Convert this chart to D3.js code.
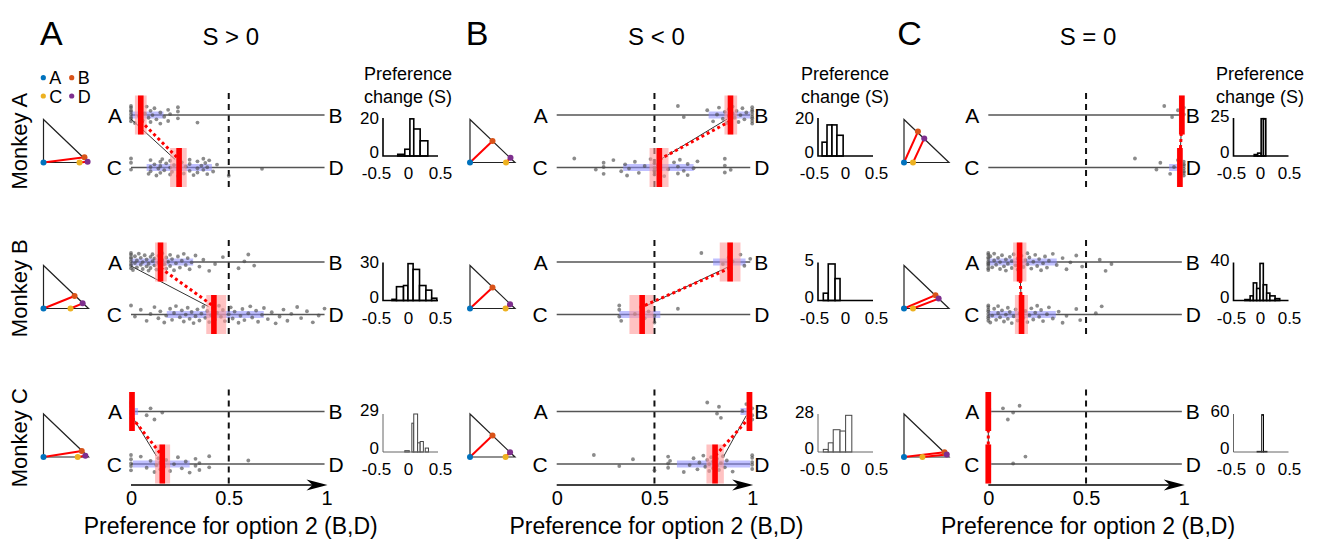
<!DOCTYPE html>
<html>
<head>
<meta charset="utf-8">
<script src="https://cdn.jsdelivr.net/npm/d3@7"></script>
<style>
  body { margin: 0; background: #fff; }
  svg { font-family: "Liberation Sans", Arial, sans-serif; }
</style>
</head>
<body>
<div class="chart"></div>
<script>
var svgWidth = 1318;
var svgHeight = 542;

// ---- data ----
var panelLetters = ["A", "B", "C"];
var conditions = ["S > 0", "S < 0", "S = 0"];
var monkeys = ["Monkey A", "Monkey B", "Monkey C"];
var optionNames = ["A", "B", "C", "D"];
var optionColors = ["#0072bd", "#d95319", "#edb120", "#7e2f8e"];
var axisTicks = [0, 0.5, 1];
var histTickValues = [-0.5, 0, 0.5];

// simplex position [u, v] of options B, C, D, indexed [condition][monkey]; A is the corner (0,0)
var simplexB = [[[0.91, 0.12], [0.69, 0.29], [0.85, 0.14]],
                [[0.5, 0.5], [0.5, 0.49], [0.5, 0.5]],
                [[0.31, 0.72], [0.70, 0.31], [0.9, 0.11]]];
var simplexC = [[[0.80, 0], [0.60, 0], [0.76, 0]],
                [[0.80, 0], [0.79, 0], [0.79, 0]],
                [[0.20, 0], [0.20, 0], [0.41, 0]]];
var simplexD = [[[0.98, 0.02], [0.87, 0.12], [0.93, 0.03]],
                [[0.90, 0.11], [0.89, 0.10], [0.89, 0.11]],
                [[0.45, 0.56], [0.77, 0.23], [0.95, 0.06]]];

// mean preference for option 2, [condition][monkey]
var meanAB = [[0.05, 0.151, 0.005], [0.889, 0.887, 0.986], [0.99, 0.16, 0.0]];
var meanCD = [[0.246, 0.424, 0.16], [0.525, 0.437, 0.81], [0.98, 0.17, 0.0]];
var ciAB = [[[0.02, 0.08], [0.123, 0.183], [0, 0.01]],
            [[0.858, 0.923], [0.834, 0.94], [0.975, 0.995]],
            [[0.985, 0.995], [0.127, 0.195], [0, 0.005]]];
var ciCD = [[[0.2, 0.285], [0.385, 0.487], [0.123, 0.2]],
            [[0.475, 0.572], [0.372, 0.495], [0.766, 0.855]],
            [[0.975, 0.99], [0.136, 0.203], [0, 0.005]]];
var iqrAB = [[[0, 0.166], [0, 0.318], [0.01, 0.036]],
             [[0.777, 0.99], [0.8, 0.966], [0.94, 0.99]],
             [[0.99, 1], [0, 0.35], [0, 0.015]]];
var iqrCD = [[[0.08, 0.414], [0.183, 0.679], [0.01, 0.3]],
             [[0.34, 0.70], [0.32, 0.53], [0.615, 0.99]],
             [[0.925, 0.975], [0, 0.345], [0, 0.015]]];
// thin black line (expected shift) endpoints
var predAB = [[0, 0, 0.003], [0.872, 0.887, 0.97], [0.99, 0.16, 0]];
var predCD = [[0.226, 0.396, 0.13], [0.53, 0.45, 0.855], [0.98, 0.17, 0]];

// single sessions
var dotsAB = [
  [
    [0,0,0,0,0,0,0,0,0.02,0.04,0.05,0.06,0.07,0.08,0.09,0.1,0.1,0.11,0.12,0.13,0.15,0.15,0.17,0.19,0.19,0.2,0.24,0.24,0.24,0.34],
    [0,0,0,0,0,0,0,0,0.01,0.02,0.02,0.03,0.03,0.04,0.05,0.05,0.06,0.06,0.07,0.08,0.08,0.09,0.09,0.1,0.1,0.11,0.11,0.12,0.12,0.13,0.14,0.14,0.15,0.16,0.16,0.17,0.18,0.18,0.19,0.2,0.2,0.21,0.22,0.23,0.24,0.25,0.26,0.27,0.28,0.29,0.3,0.31,0.33,0.35,0.37,0.4,0.43,0.47,0.55,0.58,0.6,0.63],
    [0,0,0,0,0,0,0.08,0.1,0.12,0.16]
  ],
  [
    [0.62,0.65,0.77,0.8,0.82,0.83,0.85,0.86,0.87,0.88,0.88,0.89,0.9,0.9,0.91,0.92,0.93,0.94,0.95,0.96,0.97,1,1,1,1,1,1,1,1],
    [0.74,0.85,0.88,0.89,0.9,0.94,0.96,0.99],
    [0.77,0.82,0.83,0.84,0.95,0.97,1,1,1]
  ],
  [
    [0.9,0.94,0.97,0.99,1,1],
    [0,0,0,0,0,0,0,0,0,0,0.01,0.02,0.03,0.03,0.04,0.05,0.06,0.06,0.07,0.08,0.09,0.09,0.1,0.11,0.12,0.12,0.13,0.14,0.15,0.15,0.16,0.17,0.18,0.19,0.2,0.2,0.21,0.22,0.23,0.24,0.25,0.26,0.27,0.28,0.29,0.3,0.31,0.33,0.35,0.38,0.4,0.42,0.45,0.48,0.57,0.6,0.63],
    [0,0,0,0,0,0,0,0.075,0.1,0.127,0.16]
  ]
];
var dotsCD = [
  [
    [0,0,0,0.09,0.1,0.1,0.1,0.12,0.13,0.14,0.15,0.15,0.15,0.16,0.17,0.18,0.2,0.2,0.2,0.21,0.22,0.24,0.25,0.26,0.27,0.28,0.3,0.3,0.3,0.32,0.34,0.34,0.34,0.36,0.37,0.37,0.38,0.39,0.39,0.4,0.42,0.44,0.5,0.67],
    [0,0.02,0.05,0.08,0.1,0.12,0.14,0.15,0.17,0.18,0.2,0.21,0.22,0.23,0.25,0.26,0.27,0.28,0.29,0.3,0.31,0.32,0.33,0.34,0.35,0.36,0.37,0.38,0.39,0.4,0.41,0.42,0.43,0.44,0.45,0.46,0.47,0.48,0.5,0.51,0.52,0.53,0.55,0.56,0.57,0.58,0.6,0.61,0.62,0.64,0.65,0.67,0.68,0.7,0.72,0.74,0.76,0.78,0.8,0.82,0.85,0.87,0.9,0.93,0.96,0.99],
    [0,0,0,0,0,0.05,0.08,0.1,0.12,0.13,0.14,0.15,0.15,0.16,0.17,0.18,0.2,0.22,0.24,0.26,0.28,0.3,0.33,0.33,0.35,0.35,0.4,0.4,0.6]
  ],
  [
    [0.09,0.2,0.24,0.24,0.24,0.29,0.33,0.35,0.36,0.37,0.4,0.42,0.45,0.48,0.5,0.5,0.5,0.5,0.5,0.5,0.52,0.55,0.57,0.6,0.62,0.62,0.63,0.65,0.67,0.67,0.7,0.72,0.86,0.86,0.86,0.89],
    [0.32,0.32,0.32,0.33,0.4,0.43,0.45,0.47,0.5,0.5,0.62],
    [0.19,0.32,0.39,0.5,0.57,0.57,0.57,0.58,0.65,0.68,0.7,0.72,0.73,0.75,0.76,0.77,0.78,0.78,0.79,0.8,0.8,0.81,0.82,0.82,0.83,0.84,0.85,0.86,0.87,0.9,1,1,1,1,1]
  ],
  [
    [0.75,0.86,0.88,0.93,0.95,0.97,1,1,1,1,1,1,1],
    [0,0,0,0,0,0,0,0,0.01,0.02,0.03,0.04,0.05,0.05,0.06,0.07,0.08,0.09,0.1,0.1,0.11,0.12,0.13,0.14,0.15,0.16,0.17,0.18,0.19,0.2,0.21,0.22,0.23,0.24,0.25,0.26,0.27,0.28,0.3,0.31,0.33,0.36,0.38,0.4,0.45,0.47,0.55,0.58],
    [0,0,0,0,0.127,0.19]
  ]
];

// preference change histograms
var histEdges = [
  [[-0.16,-0.05,0.03,0.09,0.19,0.31],
   [-0.25,-0.18,-0.07,0.0,0.08,0.18,0.28,0.37,0.45],
   [-0.05,0.02,0.06,0.09,0.15,0.19,0.24,0.27,0.32]],
  [[-0.37,-0.29,-0.21,-0.13,-0.03],
   [-0.35,-0.27,-0.16,-0.08],
   [-0.35,-0.27,-0.19,-0.08,0.01,0.11]],
  [[-0.1,-0.04,0.02,0.06,0.1],
   [-0.26,-0.17,-0.115,-0.057,0,0.057,0.115,0.17,0.26,0.34],
   [-0.05,0.03,0.06,0.12]]
];
var histCounts = [
  [[1,4,22,16,9], [1,12,13,32,27,13,9,2], [1,0,22,29,7,8,0,3]],
  [[8,18,18,12], [1,5,3], [2,7,17,16,28]],
  [[1,2,26,26], [1,5,19,13,40,17,8,5,2], [1,60,1]]
];
var histTicks = [[20, 30, 29], [20, 5, 28], [25, 40, 60]];
var histMax = [[22.5, 33, 29], [22, 5.2, 29], [26.5, 41, 61]];

// ---- layout ----
var colZero = [131, 556.7, 988.3];
var unitPx = 195.5;
var lineY = [115, 262, 411.5];
var lineGap = 52.5;
var axisY = 485;
var triX = [43.5, 470, 904];
var triBase = [162.5, 308.5, 457];
var triW = 45, triH = 43;
var histYAxisX = [383, 818, 1233.5];
var histZero = [408, 845, 1260];
var histUnit = [64, 62, 58];
var histBase = [156, 300.5, 452];
var histH = 38, histLen = 55;
var barHalf = 19.5;

var svg = d3.select(".chart")
  .append("svg")
  .attr("width", svgWidth)
  .attr("height", svgHeight);

// deterministic vertical spread of the session dots (display only)
function jitter(i) {
  return (((i * 0.618034) % 1) - 0.5) * 18;
}

// legend
var legend = svg.append("g");
optionNames.forEach(function(name, i) {
  var lx = 43.3 + (i % 2) * 28.4;
  var ly = i < 2 ? 77.7 : 96;
  legend.append("circle").attr("cx", lx).attr("cy", ly).attr("r", 2.6).attr("fill", optionColors[i]);
  legend.append("text").attr("x", lx + 6).attr("y", ly + 6.5)
    .attr("font-size", "18px").text(name);
});

conditions.forEach(function(cond, c) {
  var x = d3.scaleLinear().domain([0, 1]).range([colZero[c], colZero[c] + unitPx]);

  svg.append("text")
    .attr("x", colZero[c] - 91)
    .attr("y", 45)
    .attr("font-size", "34px")
    .text(panelLetters[c]);

  svg.append("text")
    .attr("x", x(0.5) + 2)
    .attr("y", 45)
    .attr("text-anchor", "middle")
    .attr("font-size", "24px")
    .text(cond);

  // histogram title
  var ht = svg.append("text")
    .attr("text-anchor", "middle")
    .attr("font-size", "18px");
  ht.append("tspan").attr("x", histZero[c]).attr("y", 80).text("Preference");
  ht.append("tspan").attr("x", histZero[c]).attr("y", 103).text("change (S)");

  monkeys.forEach(function(monkey, m) {
    var yA = lineY[m];
    var yC = lineY[m] + lineGap;
    var g = svg.append("g");

    if (c === 0) {
      svg.append("text")
        .attr("transform", `translate(27, ${(yA + yC) / 2}) rotate(-90)`)
        .attr("text-anchor", "middle")
        .attr("font-size", "22px")
        .text(monkey);
    }

    // simplex triangle
    var tx = d3.scaleLinear().domain([0, 1]).range([triX[c], triX[c] + triW]);
    var ty = d3.scaleLinear().domain([0, 1]).range([triBase[m], triBase[m] - triH]);
    g.append("path")
      .attr("d", `M${tx(0)},${ty(1)}L${tx(0)},${ty(0)}L${tx(1)},${ty(0)}Z`)
      .attr("fill", "none")
      .attr("stroke", "#222")
      .attr("stroke-width", 1.2);
    var pts = [[0, 0], simplexB[c][m], simplexC[c][m], simplexD[c][m]];
    [[0, 1], [2, 3]].forEach(function(pair) {
      g.append("line")
        .attr("x1", tx(pts[pair[0]][0])).attr("y1", ty(pts[pair[0]][1]))
        .attr("x2", tx(pts[pair[1]][0])).attr("y2", ty(pts[pair[1]][1]))
        .attr("stroke", "red")
        .attr("stroke-width", 2);
    });
    g.selectAll(".opt")
      .data(pts)
      .enter()
      .append("circle")
      .attr("cx", d => tx(d[0]))
      .attr("cy", d => ty(d[1]))
      .attr("r", 3)
      .attr("fill", (d, i) => optionColors[i]);

    // indifference line
    g.append("line")
      .attr("x1", x(0.5)).attr("x2", x(0.5))
      .attr("y1", yA - 22)
      .attr("y2", m === 2 ? axisY : yC + 21)
      .attr("stroke", "#111")
      .attr("stroke-width", 2)
      .attr("stroke-dasharray", "6,5");

    var rows = [
      { y: yA, left: "A", right: "B", dots: dotsAB[c][m], iqr: iqrAB[c][m], ci: ciAB[c][m], mean: meanAB[c][m] },
      { y: yC, left: "C", right: "D", dots: dotsCD[c][m], iqr: iqrCD[c][m], ci: ciCD[c][m], mean: meanCD[c][m] }
    ];

    rows.forEach(function(r) {
      g.append("line")
        .attr("x1", x(0)).attr("x2", x(0.99))
        .attr("y1", r.y).attr("y2", r.y)
        .attr("stroke", "#555")
        .attr("stroke-width", 1.4);
      g.append("text")
        .attr("x", x(0) - 9).attr("y", r.y + 7.5)
        .attr("text-anchor", "end")
        .attr("font-size", "21px")
        .text(r.left);
      g.append("text")
        .attr("x", x(0.99) + 4).attr("y", r.y + 7.5)
        .attr("font-size", "21px")
        .text(r.right);

      g.append("rect")
        .attr("x", x(r.iqr[0]))
        .attr("y", r.y - 3.5)
        .attr("width", Math.max(x(r.iqr[1]) - x(r.iqr[0]), 2))
        .attr("height", 7)
        .attr("fill", "#8c8cff")
        .attr("opacity", 0.55);

      g.selectAll(null)
        .data(r.dots)
        .enter()
        .append("circle")
        .attr("cx", d => x(d))
        .attr("cy", (d, i) => r.y + jitter(i))
        .attr("r", 1.9)
        .attr("fill", "#4d4d4d")
        .attr("opacity", 0.65);
    });

    // expected shift
    g.append("line")
      .attr("x1", x(predAB[c][m])).attr("y1", yA + 4)
      .attr("x2", x(predCD[c][m])).attr("y2", yC - 8)
      .attr("stroke", "#333")
      .attr("stroke-width", 1);

    rows.forEach(function(r) {
      var lo = x(r.ci[0]), hi = x(r.ci[1]);
      g.append("rect")
        .attr("x", Math.min(lo, x(r.mean) - 3))
        .attr("y", r.y - barHalf)
        .attr("width", Math.max(hi - lo, 6))
        .attr("height", barHalf * 2)
        .attr("fill", "#ff9a9a")
        .attr("opacity", 0.6);
      g.append("rect")
        .attr("x", x(r.mean) - 2.8)
        .attr("y", r.y - barHalf)
        .attr("width", 5.6)
        .attr("height", barHalf * 2)
        .attr("fill", "red");
    });

    g.append("line")
      .attr("x1", x(meanAB[c][m])).attr("y1", yA + 6)
      .attr("x2", x(meanCD[c][m])).attr("y2", yC - 8)
      .attr("stroke", "red")
      .attr("stroke-width", 3)
      .attr("stroke-dasharray", "3,3");

    // bottom axis with arrow
    if (m === 2) {
      var xAxis = g.append("g")
        .attr("transform", `translate(0, ${axisY})`)
        .call(d3.axisBottom(x).tickValues(axisTicks).tickSize(0).tickPadding(6).tickFormat(d => String(d)));
      xAxis.select(".domain").remove();
      xAxis.selectAll("text").attr("font-size", "20px").attr("fill", "#000").attr("font-family", null);
      g.append("line")
        .attr("x1", x(0)).attr("x2", x(1) - 12)
        .attr("y1", axisY).attr("y2", axisY)
        .attr("stroke", "#000")
        .attr("stroke-width", 1.5);
      var tip = x(1) + 1;
      g.append("path")
        .attr("d", `M${tip},${axisY}L${tip - 21},${axisY - 5.5}L${tip - 15},${axisY}L${tip - 21},${axisY + 5.5}Z`)
        .attr("fill", "#000");
      g.append("text")
        .attr("x", x(0.5) + 2)
        .attr("y", 534)
        .attr("text-anchor", "middle")
        .attr("font-size", "23px")
        .text("Preference for option 2 (B,D)");
    }

    // histogram of preference change
    var thin = m === 2;
    var hx = d3.scaleLinear().domain([-0.5, 0.5])
      .range([histZero[c] - histUnit[c] / 2, histZero[c] + histUnit[c] / 2]);
    var hy = d3.scaleLinear().domain([0, histMax[c][m]])
      .range([histBase[m], histBase[m] - histH]);
    var edges = histEdges[c][m];
    var bins = histCounts[c][m].map((n, i) => ({ x0: edges[i], x1: edges[i + 1], n: n }));

    var hg = svg.append("g");
    hg.selectAll("rect")
      .data(bins)
      .enter()
      .append("rect")
      .attr("x", d => hx(d.x0))
      .attr("y", d => hy(d.n))
      .attr("width", d => hx(d.x1) - hx(d.x0))
      .attr("height", d => hy(0) - hy(d.n))
      .attr("fill", "#fff")
      .attr("stroke", thin && c < 2 ? "#444" : "#000")
      .attr("stroke-width", thin ? 1 : 1.6);

    hg.append("path")
      .attr("d", `M${histYAxisX[c]},${hy(histMax[c][m])}V${histBase[m]}H${histYAxisX[c] + histLen}`)
      .attr("fill", "none")
      .attr("stroke", thin ? "#666" : "#000")
      .attr("stroke-width", thin ? 1 : 1.6);

    var yAx = hg.append("g")
      .attr("transform", `translate(${histYAxisX[c]}, 0)`)
      .call(d3.axisLeft(hy).tickValues([0, histTicks[c][m]]).tickSize(0).tickPadding(4).tickFormat(d => String(d)));
    var xAx = hg.append("g")
      .attr("transform", `translate(0, ${histBase[m]})`)
      .call(d3.axisBottom(hx).tickValues(histTickValues).tickSize(0).tickPadding(11).tickFormat(d => String(d)));
    [yAx, xAx].forEach(function(ax) {
      ax.select(".domain").remove();
      ax.selectAll("text").attr("font-size", "17px").attr("fill", "#000").attr("font-family", null);
    });
    yAx.selectAll("text").attr("dy", "0.1em");
  });
});
</script>
</body>
</html>
